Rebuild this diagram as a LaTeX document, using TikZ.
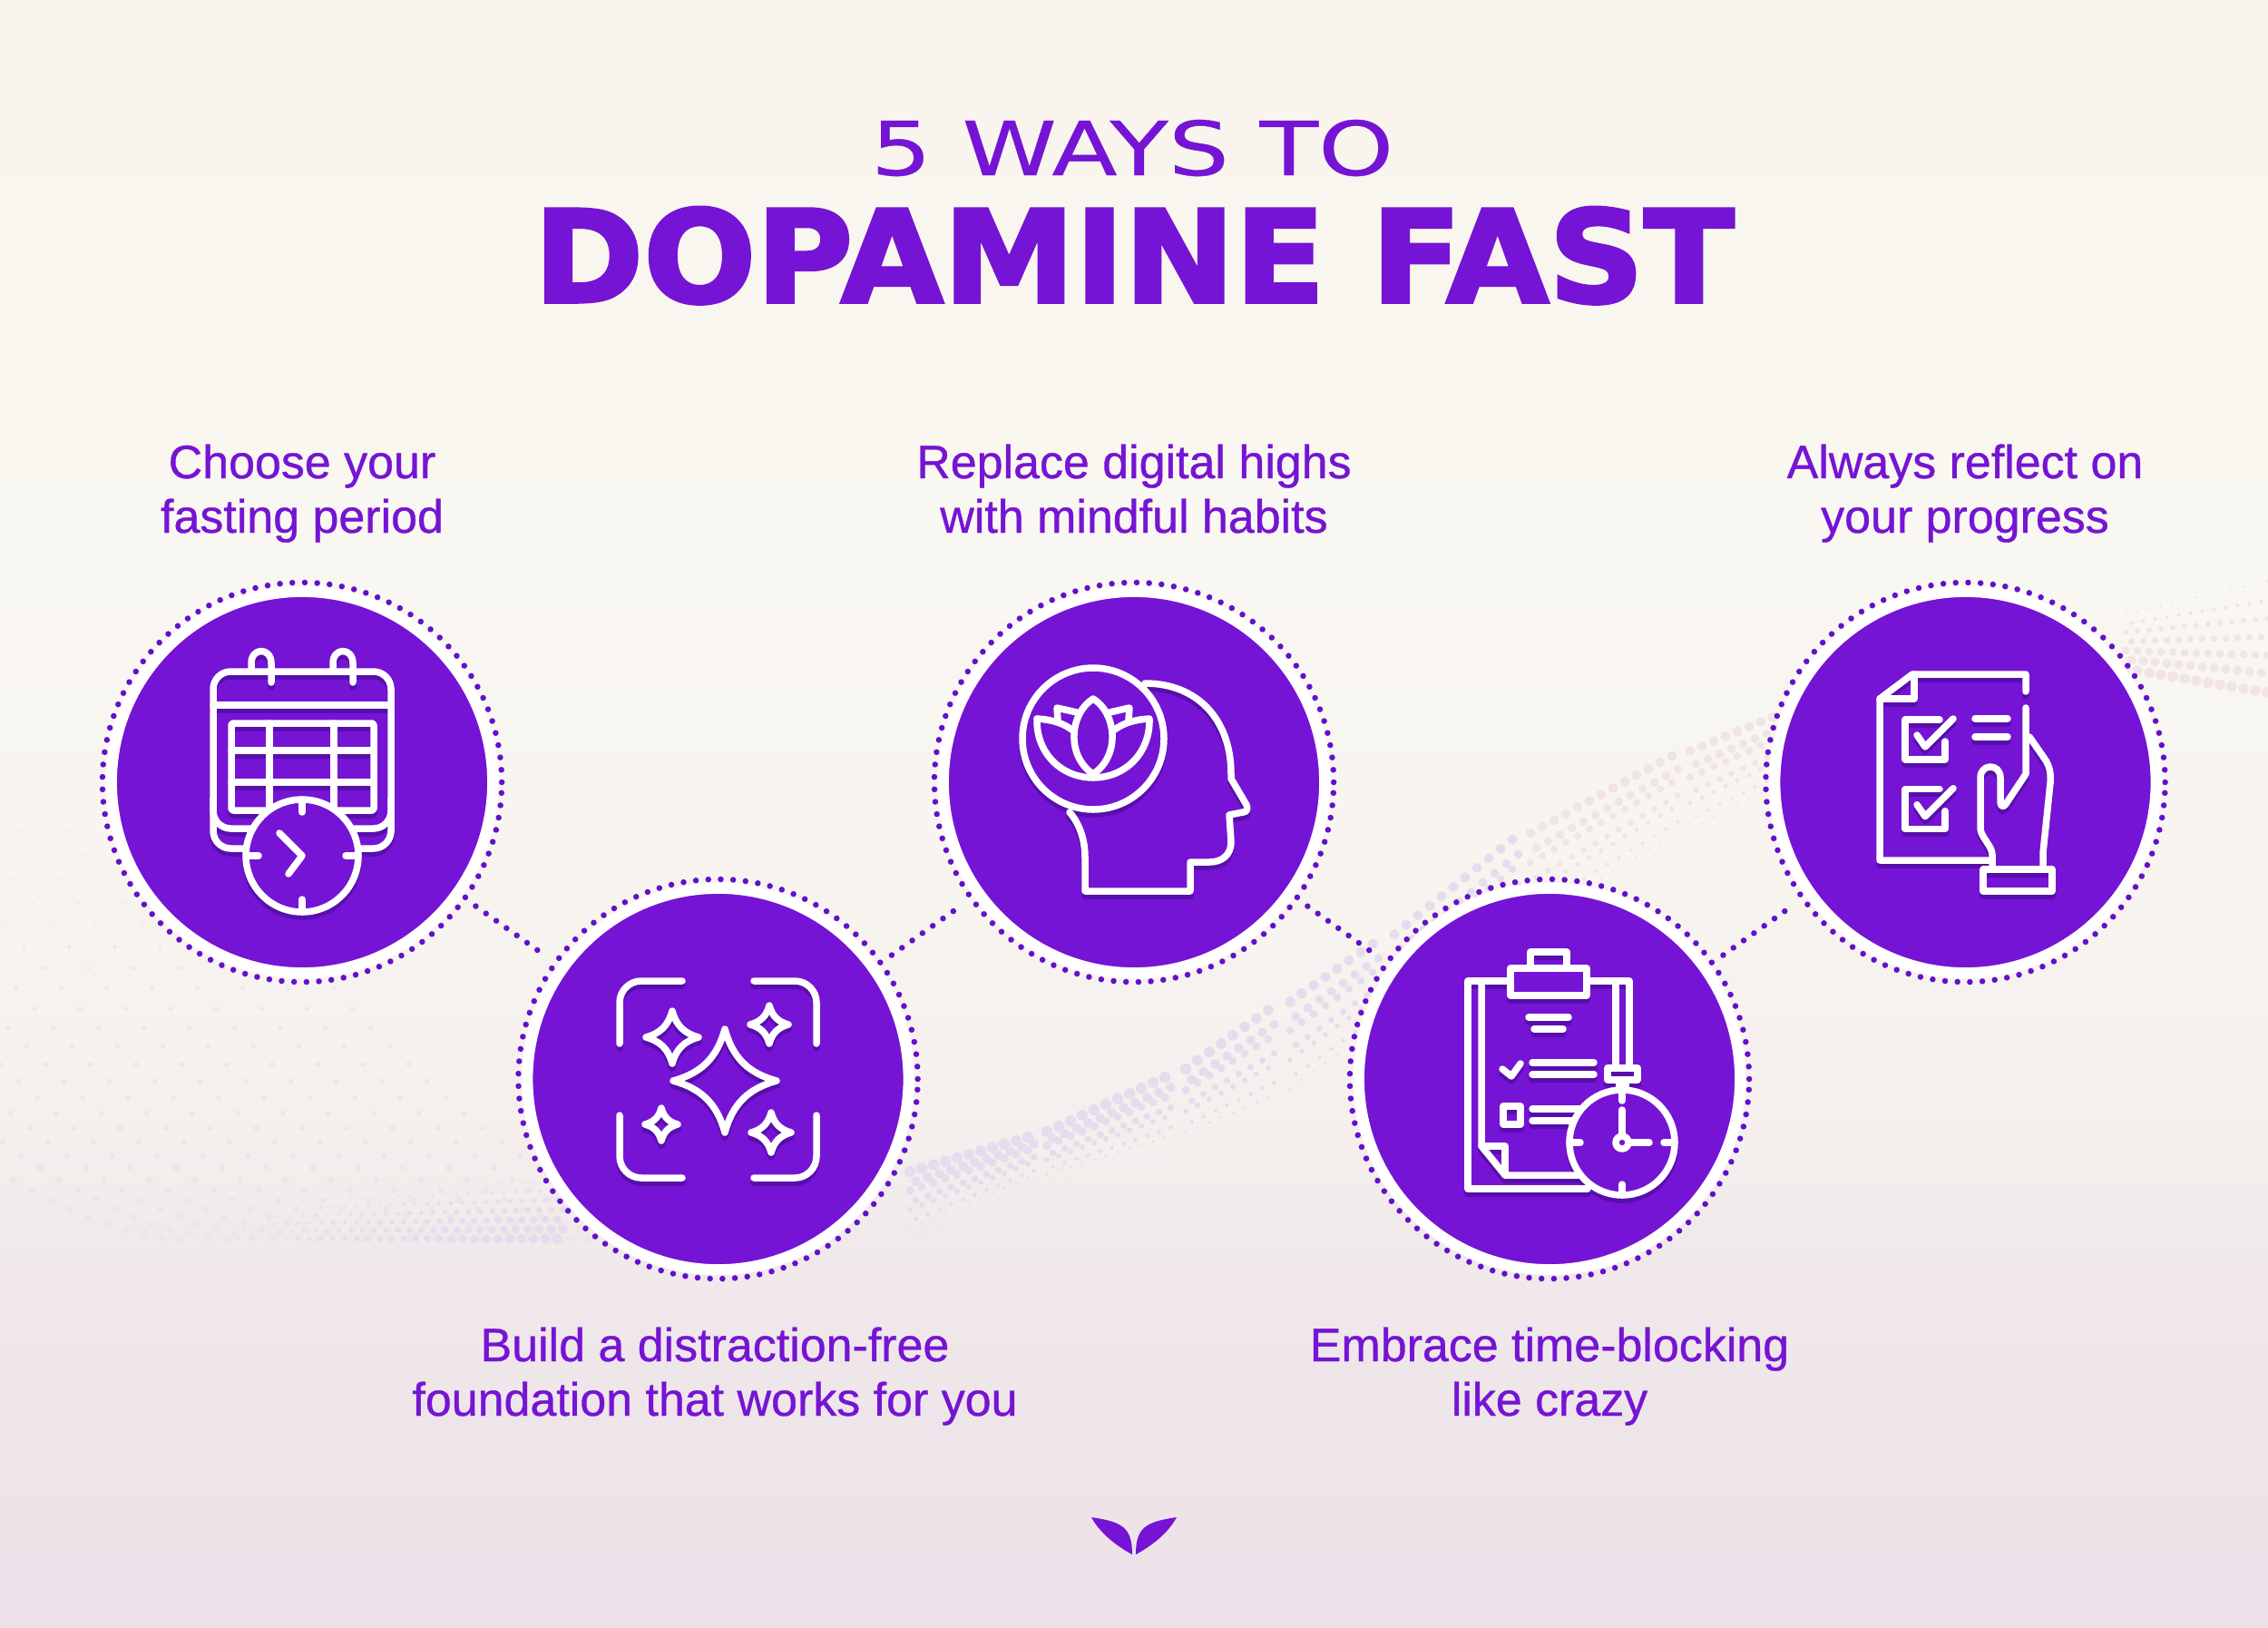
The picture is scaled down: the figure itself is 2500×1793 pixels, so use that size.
\documentclass[tikz,border=0pt]{standalone}
\usepackage{fontspec}
\setmainfont{Liberation Sans}
\newfontfamily\labelface[FakeBold=0.7,FakeStretch=1.005]{Liberation Sans}
\newfontfamily\waysface[FakeStretch=1.284,FakeBold=0.4]{DejaVu Sans}
\newfontfamily\fastface[FakeStretch=1.034,FakeBold=2.6]{DejaVu Sans}
\definecolor{brandpurple}{RGB}{117,20,212}
\definecolor{dotpurple}{RGB}{98,16,204}
\definecolor{iconshade}{RGB}{88,14,172}
\definecolor{bgtop}{RGB}{249,245,238}
\definecolor{bgcream}{RGB}{249,247,241}
\definecolor{bgmid}{RGB}{248,245,240}
\definecolor{bglow}{RGB}{245,240,238}
\definecolor{bgfade}{RGB}{240,232,234}
\definecolor{bgend}{RGB}{236,225,233}
\definecolor{wavelilac}{RGB}{229,220,237}
\definecolor{wavepink}{RGB}{241,227,232}
\definecolor{wavefaint}{RGB}{235,230,236}
\pgfdeclareverticalshading{pagebg}{100bp}{color(0bp)=(bgend); color(25bp)=(bgend); color(36bp)=(bgfade); color(41bp)=(bglow); color(50bp)=(bgmid); color(58bp)=(bgcream); color(72bp)=(bgtop); color(100bp)=(bgtop)}

\begin{document}
\begin{tikzpicture}[x=0.01cm,y=-0.01cm]
        \tikzstyle{disc}=[circle,fill=brandpurple,draw=white,line width=0.12cm,inner sep=0pt,outer sep=0pt,minimum size=4.2cm]
        \tikzstyle{ring}=[circle,draw=dotpurple,line width=1.85pt,line cap=round,dash pattern=on 0pt off 3.9pt,inner sep=0pt,outer sep=0pt,minimum size=4.4cm]
        \tikzstyle{linkdots}=[draw=dotpurple,line width=1.85pt,line cap=round,dash pattern=on 0pt off 3.95pt,shorten <=0.15cm,shorten >=0.15cm]
        \tikzstyle{tip}=[text=brandpurple,anchor=base,align=center,inner sep=0pt,font=\labelface\fontsize{14.7}{17.07}\selectfont]
        \tikzstyle{iconline}=[line width=0.075cm,line cap=round,line join=round]
        \useasboundingbox (0,0) rectangle (2500,1793);
        \shade[shading=pagebg] (0,0) rectangle (2500,1793);
        \foreach \i in {0,...,12} {
            \pgfmathsetmacro\xstart{-500+50*\i}
            \foreach \k in {0,...,34} {
                \pgfmathsetmacro\t{\k/34}
                \pgfmathsetmacro\px{\xstart+700*\t}
                \pgfmathsetmacro\py{740+625*(1-pow(1-\t,1.7))}
                \pgfmathsetmacro\rd{0.8+3.6*\t}
                \fill[wavefaint] (\px,\py) circle [radius=\rd];
            }
        }
        \foreach \xa/\ea/\oa/\fa/\xb/\eb/\ob/\fb/\wc in {250/1365/1310/0.15/620/1365/1290/0.85/wavelilac,
                990/1295/1370/0.9/1141/1253/1305/0.9/wavelilac,
                1141/1253/1305/0.9/1294/1187/1265/0.9/wavelilac,
                1294/1187/1265/0.9/1409/1113/1225/0.85/wavelilac,
                1409/1113/1225/0.85/1524/1040/1150/0.8/wavelilac,
                1524/1040/1150/0.8/1674/925/1040/0.8/wavelilac,
                1674/925/1040/0.8/1850/833/935/0.8/wavepink,
                1850/833/935/0.8/1960/790/880/0.8/wavepink,
                2330/735/670/0.85/2500/763/620/0.85/wavepink} {
            \pgfmathtruncatemacro\ncols{(\xb-\xa)/13}
            \foreach \c in {1,...,\ncols} {
                \pgfmathsetmacro\t{\c/\ncols}
                \pgfmathsetmacro\edgey{\ea+\t*(\eb-\ea)}
                \pgfmathsetmacro\othery{\oa+\t*(\ob-\oa)}
                \pgfmathsetmacro\sz{\fa+\t*(\fb-\fa)}
                \foreach \j in {0,...,7} {
                    \pgfmathsetmacro\s{\j/7}
                    \pgfmathsetmacro\px{\xa+\c*13+6.5*mod(\j,2)}
                    \pgfmathsetmacro\py{\edgey+\s*(\othery-\edgey)}
                    \pgfmathsetmacro\rd{\sz*(6*(1-\s)+0.8)}
                    \fill[\wc] (\px,\py) circle [radius=\rd];
                }
            }
        }
        \node[ring] (ring1) at (333,862) {};
        \node[ring] (ring2) at (791.5,1189) {};
        \node[ring] (ring3) at (1250,862) {};
        \node[ring] (ring4) at (1708,1189) {};
        \node[ring] (ring5) at (2166.5,862) {};
        \draw[linkdots] (ring1) -- (ring2);
        \draw[linkdots] (ring2) -- (ring3);
        \draw[linkdots] (ring3) -- (ring4);
        \draw[linkdots] (ring4) -- (ring5);
        \node[disc] (disc1) at (333,862) {};
        \node[disc] (disc2) at (791.5,1189) {};
        \node[disc] (disc3) at (1250,862) {};
        \node[disc] (disc4) at (1708,1189) {};
        \node[disc] (disc5) at (2166.5,862) {};
        \node[text=brandpurple,anchor=base,inner sep=0pt,font=\waysface\fontsize{23.4}{28}\selectfont] (waystitle) at (1248,193) {5 WAYS TO};
        \node[text=brandpurple,anchor=base,inner sep=0pt,font=\fastface\bfseries\fontsize{40.1}{48}\selectfont] (fasttitle) at (1250,333) {DOPAMINE FAST};
        \node[tip] (tip1) at (333,587) {Choose your\\fasting period};
        \node[tip] (tip2) at (788,1560) {Build a distraction-free\\foundation that works for you};
        \node[tip] (tip3) at (1250,587) {Replace digital highs\\with mindful habits};
        \node[tip] (tip4) at (1708,1560) {Embrace time-blocking\\like crazy};
        \node[tip] (tip5) at (2166,587) {Always reflect on\\your progress};
        \foreach \ink/\pad/\dy in {iconshade/iconshade/5,white/brandpurple/0} {
            \begin{scope}[shift={(0,\dy)},color=\ink,iconline]
                % calendar
                \draw[rounded corners=5.5pt] (277,740) -- (235,740) -- (235,935) -- (431,935) -- (431,740) -- (277,740);
                \draw[rounded corners=5.5pt] (235,880) -- (235,913) -- (431,913) -- (431,880);
                \draw (235,777) -- (431,777);
                \draw (277,740) -- (277,731) .. controls (277,713) and (299,713) .. (299,731) -- (299,752);
                \draw (367,740) -- (367,731) .. controls (367,713) and (389,713) .. (389,731) -- (389,752);
                \draw[rounded corners=0.6pt] (255,797) rectangle (412,893);
                \draw (297,797) -- (297,893) (368,797) -- (368,893) (255,827) -- (412,827) (255,862) -- (412,862);
                \filldraw[fill=\pad] (333,943) circle [radius=62];
                \draw (333,881) -- (333,895) (333,1005) -- (333,991) (271,943) -- (285,943) (395,943) -- (381,943);
                \draw (308,918) -- (333,943) -- (318,963);
                % sparkles
                \draw[rounded corners=6.8pt] (683,1150) -- (683,1081) -- (752,1081);
                \draw[rounded corners=6.8pt] (831,1081) -- (900,1081) -- (900,1150);
                \draw[rounded corners=6.8pt] (683,1229) -- (683,1298) -- (752,1298);
                \draw[rounded corners=6.8pt] (831,1298) -- (900,1298) -- (900,1229);
                \foreach \cx/\cy/\r in {799/1191/57,741/1143/29,848/1129/21,729/1239/18,850/1248/22} {
                    \draw[shift={(\cx,\cy)},x=\r*0.01cm,y=\r*0.01cm] (0,-1) .. controls (0.15,-0.45) and (0.45,-0.15) .. (1,0) .. controls (0.45,0.15) and (0.15,0.45) .. (0,1) .. controls (-0.15,0.45) and (-0.45,0.15) .. (-1,0) .. controls (-0.45,-0.15) and (-0.15,-0.45) .. cycle;
                }
                % head and lotus
                \draw (1262,753) .. controls (1320,753) and (1357,793) .. (1357,853) -- (1357,858) -- (1374,887) .. controls (1376,892) and (1374,895) .. (1370,895) -- (1355,898) -- (1357,928) .. controls (1357,942) and (1347,950) .. (1333,950) -- (1312,950) -- (1312,982) -- (1196,982) -- (1196,945) .. controls (1196,925) and (1190,908) .. (1179,895);
                \filldraw[fill=\pad] (1205,814) circle [radius=78];
                \draw (1143,792) .. controls (1142,830) and (1170,857) .. (1205,857) .. controls (1240,857) and (1268,830) .. (1267,792) .. controls (1250,793) and (1237,797) .. (1226,806);
                \draw (1143,792) .. controls (1160,793) and (1173,797) .. (1184,806);
                \draw (1166,793) -- (1165,780) -- (1187,785);
                \draw (1244,793) -- (1245,780) -- (1223,785);
                \draw (1205,770) .. controls (1180,785) and (1174,832) .. (1205,853) .. controls (1236,832) and (1230,785) .. cycle;
                % clipboard
                \draw (1665,1081) -- (1618,1081) -- (1618,1310) -- (1750,1310);
                \draw (1633,1081) -- (1633,1263) -- (1659,1295) -- (1740,1295);
                \draw (1633,1263) -- (1659,1263) -- (1659,1295);
                \draw (1749,1081) -- (1796,1081) -- (1796,1177);
                \draw (1781,1081) -- (1781,1177);
                \draw (1687,1067) -- (1687,1049) -- (1727,1049) -- (1727,1067);
                \filldraw[fill=\pad] (1665,1067) rectangle (1749,1097);
                \draw (1685,1121) -- (1729,1121) (1691,1134) -- (1723,1134);
                \draw (1656,1178) -- (1666,1186) -- (1676,1172);
                \draw (1689,1171) -- (1757,1171) (1689,1184) -- (1757,1184);
                \draw (1657,1219) rectangle (1676,1239);
                \draw (1689,1222) -- (1745,1222) (1689,1235) -- (1735,1235);
                \draw (1785,1190) -- (1785,1200) (1792,1190) -- (1792,1200);
                \draw (1772,1177) rectangle (1805,1190);
                \filldraw[fill=\pad] (1788,1259) circle [radius=58];
                \draw (1788,1201) -- (1788,1213) (1788,1317) -- (1788,1305) (1730,1259) -- (1742,1259) (1846,1259) -- (1834,1259);
                \draw (1788,1223) -- (1788,1252) (1795,1259) -- (1818,1259);
                \draw (1788,1259) circle [radius=7];
                % checklist in hand
                \draw (2233,762) -- (2233,743) -- (2108,743) -- (2072,770) -- (2072,948) -- (2193,948);
                \draw (2072,770) -- (2110,770) -- (2110,743);
                \draw (2233,780) -- (2233,853) -- (2211,886) .. controls (2207,891) and (2205,888) .. (2205,883) -- (2205,857) .. controls (2205,841) and (2183,841) .. (2183,857) -- (2183,913) .. controls (2183,922) and (2196,932) .. (2196,942) -- (2196,958);
                \draw (2237,812) -- (2253,835) .. controls (2259,843) and (2261,852) .. (2260,863) -- (2252,940) -- (2252,958);
                \draw (2186,958) rectangle (2262,982);
                \foreach \dn in {0,76.7} {
                    \begin{scope}[shift={(0,\dn)}]
                        \draw (2138,793) -- (2100,793) -- (2100,837) -- (2144,837) -- (2144,817);
                        \draw (2113,810) -- (2122,823) -- (2153,792);
                    \end{scope}
                }
                \draw (2177,792) -- (2213,792) (2177,812) -- (2213,812);
            \end{scope}
        }
        \fill[brandpurple] (1203,1672) .. controls (1237,1677) and (1248,1683) .. (1248,1713) .. controls (1230,1703) and (1213,1690) .. cycle;
        \fill[brandpurple] (1297,1672) .. controls (1263,1677) and (1252,1683) .. (1252,1713) .. controls (1270,1703) and (1287,1690) .. cycle;
    \end{tikzpicture}
\end{document}
